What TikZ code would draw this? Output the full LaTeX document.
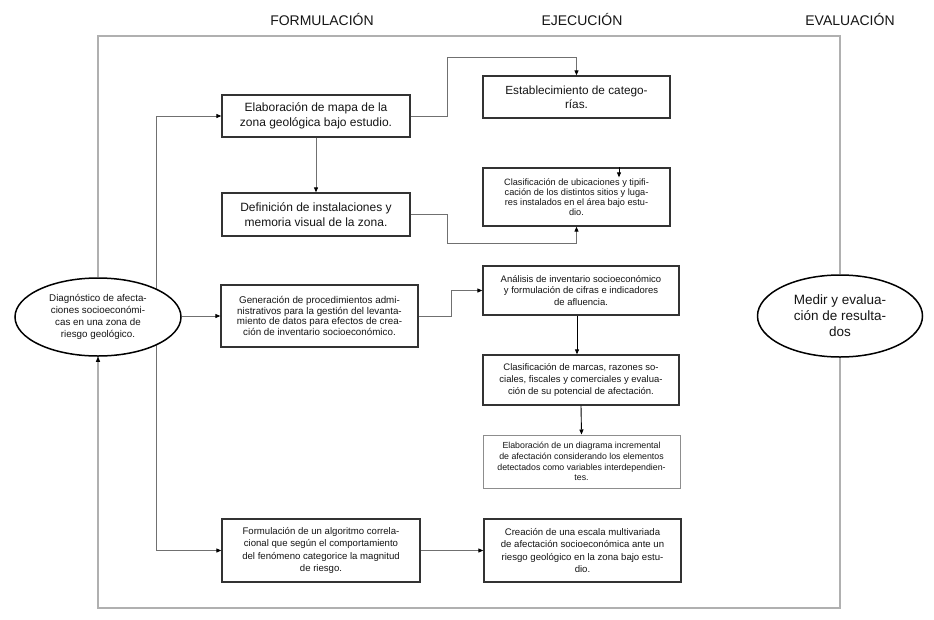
\documentclass[tikz,border=0pt]{standalone}
\usepackage{fontspec}
\setmainfont{Liberation Sans}
\usetikzlibrary{arrows.meta,shapes.geometric,backgrounds}
\definecolor{boxline}{HTML}{333333}
\definecolor{conn}{HTML}{707070}
\definecolor{framec}{HTML}{B0B0B0}
\definecolor{txt}{HTML}{151515}
\tikzset{
  box/.style={draw=boxline, line width=1.3pt, fill=white, inner sep=2pt, align=center, text=txt},
  lbox/.style={box, draw=conn!80, line width=1pt},
  oval/.style={ellipse, draw=black, line width=1.5pt, fill=white, inner sep=0pt, align=center, text=txt},
  conline/.style={draw=conn, line width=0.9pt},
  arr/.style={conline, -{Triangle[length=5pt,width=4pt,color=black]}},
  frameline/.style={draw=framec, line width=1.4pt},
  title/.style={font=\fontsize{14}{16}\selectfont, text=txt},
  fbig/.style={font=\fontsize{12}{15}\selectfont},
  fmid/.style={font=\fontsize{9.6}{12.5}\selectfont},
  fsmall/.style={font=\fontsize{9.2}{9.8}\selectfont},
}
\begin{document}
\begin{tikzpicture}[x=1pt,y=-1pt]
\useasboundingbox (0,0) rectangle (934,619);
% titles
\node[title] (t1) at (322,19) {FORMULACIÓN};
\node[title] (t2) at (582,19) {EJECUCIÓN};
\node[title] (t3) at (850,19) {EVALUACIÓN};
% nodes
\node[oval, minimum width=166pt, minimum height=78pt, font=\fontsize{9.8}{12}\selectfont] (L) at (98,317)
  {Diagnóstico de afecta-\\ciones socioeconómi-\\cas en una zona de\\riesgo geológico.};
\node[oval, minimum width=165pt, minimum height=82pt, font=\fontsize{13.5}{16}\selectfont] (R) at (840,316)
  {Medir y evalua-\\ción de resulta-\\dos};
\node[box, fbig, minimum width=188pt, minimum height=42pt] (A) at (316,116)
  {Elaboración de mapa de la\\zona geológica bajo estudio.};
\node[box, fbig, minimum width=188pt, minimum height=43pt] (B) at (316,214.5)
  {Definición de instalaciones y\\memoria visual de la zona.};
\node[box, font=\fontsize{11.8}{14}\selectfont, minimum width=187pt, minimum height=42pt] (C) at (576.5,97)
  {Establecimiento de catego-\\rías.};
\node[box, fsmall, minimum width=187pt, minimum height=58pt] (D) at (576.5,197)
  {Clasificación de ubicaciones y tipifi-\\cación de los distintos sitios y luga-\\res instalados en el área bajo estu-\\dio.};
\node[box, font=\fontsize{9.8}{10.6}\selectfont, minimum width=197pt, minimum height=62pt] (E) at (319.5,316)
  {Generación de procedimientos admi-\\nistrativos para la gestión del levanta-\\miento de datos para efectos de crea-\\ción de inventario socioeconómico.};
\node[box, font=\fontsize{9.5}{11.5}\selectfont, minimum width=196pt, minimum height=49pt] (F) at (581,290.5)
  {Análisis de inventario socioeconómico\\y formulación de cifras e indicadores\\de afluencia.};
\node[box, font=\fontsize{9.5}{12}\selectfont, minimum width=196pt, minimum height=50pt] (G) at (581,380)
  {Clasificación de marcas, razones so-\\ciales, fiscales y comerciales y evalua-\\ción de su potencial de afectación.};
\node[lbox, font=\fontsize{8.8}{10.6}\selectfont, minimum width=197pt, minimum height=53pt] (H) at (581.5,461.5)
  {Elaboración de un diagrama incremental\\de afectación considerando los elementos\\detectados como variables interdependien-\\tes.};
\node[box, fmid, minimum width=198pt, minimum height=63pt] (I) at (321,550.5)
  {Formulación de un algoritmo correla-\\cional que según el comportamiento\\del fenómeno categorice la magnitud\\de riesgo.};
\node[box, fmid, minimum width=197pt, minimum height=63pt] (J) at (582.5,550.5)
  {Creación de una escala multivariada\\de afectación socioeconómica ante un\\riesgo geológico en la zona bajo estu-\\dio.};
% coordinates
\coordinate (tt) at (156,116);
\coordinate (tb) at (156,550.5);
% connectors on background
\begin{scope}[on background layer]
\draw[conline] (tt) -- (tb);
\draw[frameline] (L.north) -- (L.north |- 0,36) -| (R.north);
\draw[frameline] (R.south) -- (R.south |- 0,608) -| (L.south);
\end{scope}
\draw[arr, draw=framec, line width=1.2pt] (L.south |- 0,400) -- (L.south);
\draw[arr] (tt) -- (A.west);
\draw[arr] (tb) -- (I.west);
\draw[arr] (L.east |- E.west) -- (E.west);
\draw[arr] (A.south) -- (B.north);
\draw[arr] (A.east) -- ++(37,0) -- ++(0,-59) -| (C.north);
\draw[arr] (B.east) -- ++(37,0) -- ++(0,28.5) -| (D.south);
\draw[arr, draw=black] ([xshift=42.5pt]D.north) -- ++(0,10);
\draw[arr] (E.east) -- ++(33,0) |- (F.west);
\draw[arr, draw=black] ([xshift=-4pt]F.south) -- ([xshift=-4pt]G.north);
\draw[arr, draw=black] (G.south) -- (H.north);
\draw[arr] (I.east) -- (J.west);
\end{tikzpicture}
\end{document}
